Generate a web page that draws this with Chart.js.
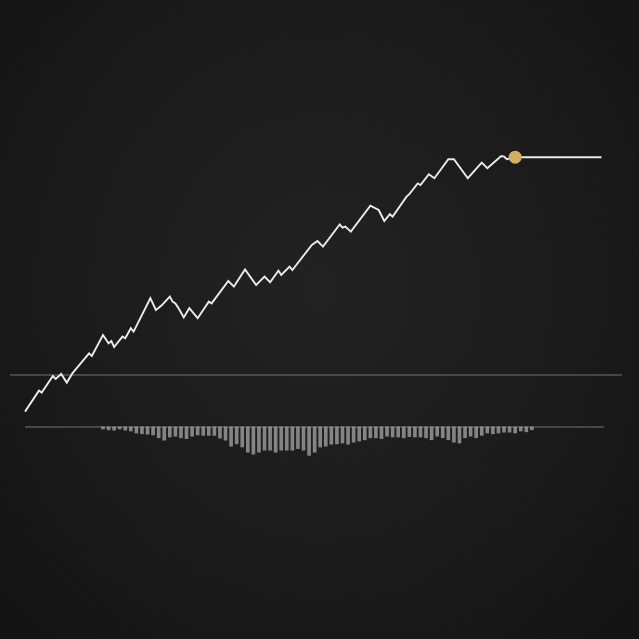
<!DOCTYPE html>
<html>
<head>
<meta charset="utf-8">
<script src="https://cdn.jsdelivr.net/npm/chart.js@4.4.0/dist/chart.umd.min.js"></script>
<style>
  html, body {
    margin: 0;
    padding: 0;
    width: 639px;
    height: 639px;
    overflow: hidden;
    background: radial-gradient(ellipse at 50% 45%, #222222 0%, #1b1b1b 55%, #131313 100%);
  }
  canvas { display: block; }
</style>
</head>
<body>
<canvas id="chart" width="639" height="639"></canvas>
<script>
// price path, x in trading days, y in index points
const lineDays = [0, 5, 6, 10, 11, 13, 15, 17, 23, 24, 28, 30, 31, 32, 35, 36, 38, 39, 45, 47,
  49, 52, 53, 54, 55, 57, 59, 62, 66, 67, 73, 75, 79, 83, 84, 86, 88, 91, 92, 95,
  96, 103, 105, 107, 113, 114, 115, 117, 124, 127, 129, 131, 132, 137, 138, 141, 142, 145, 147, 152,
  154, 159, 164, 166, 171, 172, 173, 176];
const lineValues = [81.7, 92.2, 91.2, 99.5, 98.0, 100.5, 96.2, 100.8, 110.8, 109.5, 120.0, 115.8, 117.0, 114.0, 119.2, 118.4, 123.4, 121.7, 138.4, 132.5,
  134.7, 139.2, 136.7, 135.8, 133.7, 128.8, 133.4, 128.4, 136.7, 135.8, 147.0, 144.2, 152.8, 145.0, 146.4, 149.2, 146.4, 152.2, 150.0, 154.2,
  152.5, 165.0, 167.0, 164.2, 175.3, 173.7, 174.2, 171.7, 184.7, 182.5, 177.0, 180.4, 179.2, 189.2, 190.4, 195.8, 195.0, 200.4, 198.4, 207.9,
  207.9, 198.4, 206.2, 203.4, 209.5, 209.2, 207.9, 208.9];
const baseValue = 100;
const projectionEndDay = 207;

// lower panel, one bar every 2 days starting at day 28
const firstBarDay = 28;
const barStep = 2;
const barValues = [-0.5, -0.7, -0.8, -0.5, -0.8, -1.0, -1.5, -1.7, -1.8, -2.0,
  -2.7, -3.3, -2.5, -2.3, -2.7, -2.9, -2.3, -2.0, -2.1, -2.1,
  -2.1, -2.8, -3.3, -4.8, -4.2, -5.0, -6.3, -6.8, -6.3, -5.8,
  -5.8, -6.3, -5.8, -5.8, -5.8, -5.4, -5.8, -7.1, -6.3, -5.0,
  -4.8, -4.3, -4.2, -4.0, -4.3, -3.8, -3.5, -3.2, -2.7, -2.7,
  -2.9, -2.3, -2.5, -2.5, -2.7, -2.4, -2.5, -2.5, -2.7, -3.2,
  -2.3, -2.7, -3.2, -3.8, -4.0, -2.7, -2.3, -2.7, -2.1, -1.5,
  -1.7, -1.5, -1.3, -1.3, -1.5, -1.0, -1.2, -0.7];
const barBaseEndDay = 208;

const xMin = -5.386, xMax = 214.36;

const linePts = lineDays.map((d, i) => ({ x: d, y: lineValues[i] }));
const lastDay = lineDays[lineDays.length - 1];
const lastVal = lineValues[lineValues.length - 1];
const barPts = barValues.map((v, i) => ({ x: firstBarDay + i * barStep, y: v }));

const ctx = document.getElementById('chart').getContext('2d');
const chart = new Chart(ctx, {
  type: 'line',
  data: {
    datasets: [
      {
        data: [{ x: lastDay, y: lastVal }],
        yAxisID: 'y',
        pointRadius: 6.5,
        pointBackgroundColor: '#d3ae5c',
        pointBorderWidth: 0,
        showLine: false
      },
      {
        data: linePts,
        yAxisID: 'y',
        borderColor: '#ebebeb',
        borderWidth: 1.9,
        pointRadius: 0,
        tension: 0
      },
      {
        data: [{ x: lastDay, y: lastVal }, { x: projectionEndDay, y: lastVal }],
        yAxisID: 'y',
        borderColor: '#ebebeb',
        borderWidth: 1.9,
        pointRadius: 0
      },
      {
        data: [{ x: xMin, y: baseValue }, { x: xMax, y: baseValue }],
        yAxisID: 'y',
        borderColor: 'rgba(190,190,190,0.55)',
        borderWidth: 1,
        pointRadius: 0
      },
      {
        data: [{ x: 0, y: 0 }, { x: barBaseEndDay, y: 0 }],
        yAxisID: 'y2',
        borderColor: 'rgba(190,190,190,0.55)',
        borderWidth: 1,
        pointRadius: 0
      },
      {
        type: 'bar',
        data: barPts,
        yAxisID: 'y2',
        backgroundColor: 'rgba(150,150,150,0.85)',
        barThickness: 3
      }
    ]
  },
  options: {
    responsive: false,
    animation: false,
    layout: { autoPadding: false, padding: { left: 10, right: 17, top: 0, bottom: 0 } },
    plugins: {
      legend: { display: false },
      tooltip: { enabled: false }
    },
    scales: {
      x: { type: 'linear', display: false, min: xMin, max: xMax, offset: false },
      y: { display: false, min: -32, max: 287.5 },
      y2: { display: false, min: -53, max: 106.75 }
    }
  }
});
</script>
</body>
</html>
